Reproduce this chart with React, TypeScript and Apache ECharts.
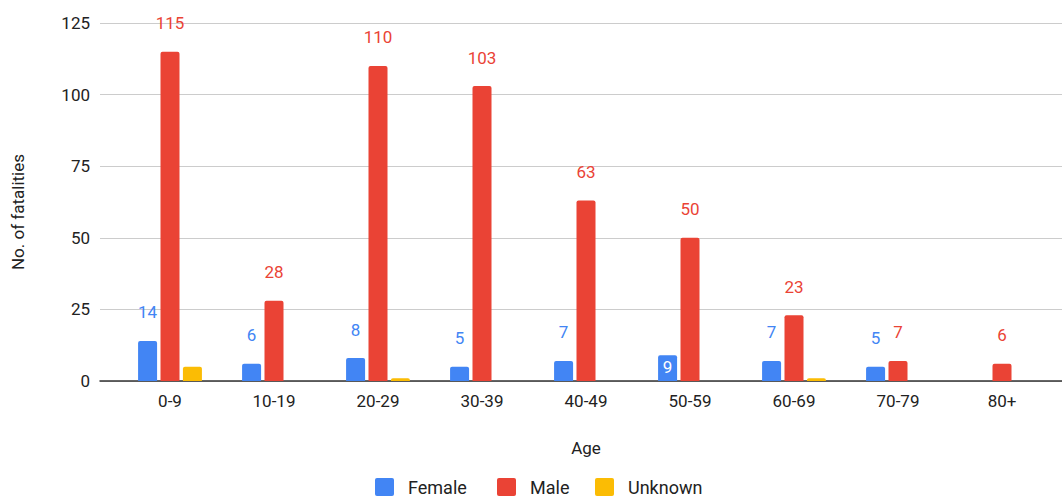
import React, { useEffect, useRef } from "react";
import * as echarts from "echarts";

// Fatalities by age group and sex
const ageGroups = ["0-9", "10-19", "20-29", "30-39", "40-49", "50-59", "60-69", "70-79", "80+"];
const female = [14, 6, 8, 5, 7, 9, 7, 5, null];
const male = [115, 28, 110, 103, 63, 50, 23, 7, 6];
const unknown = [5, null, 1, null, null, null, 1, null, null];
const yTicks = { min: 0, max: 125, interval: 25 };
const seriesNames = ["Female", "Male", "Unknown"];

// Age group whose female value label sits inside its bar
const femaleInsideLabelGroup = "50-59";

const BLUE = "#4285F4";
const RED = "#EA4335";
const YELLOW = "#FBBC04";
const COLORS = [BLUE, RED, YELLOW];
const FONT = "Roboto, Arial, sans-serif";

// Legend swatch and text x positions
const legendSwatchX = [375, 497, 595];
const legendTextX = [408, 530, 628];

export default function App() {
  const ref = useRef<HTMLDivElement>(null);

  useEffect(() => {
    if (!ref.current) return;
    const chart = echarts.init(ref.current, undefined, { renderer: "svg" });

    const plotTop = 23;
    const plotBottom = 117;

    const topLabel = (color: string) => ({
      show: true,
      position: "top" as const,
      distance: 20,
      color,
      fontSize: 17,
      fontFamily: FONT,
    });

    const femaleData = female.map((v, i) =>
      ageGroups[i] === femaleInsideLabelGroup
        ? { value: v, label: { position: "insideTop", distance: 3, color: "#fff" } }
        : v
    );

    const legendGraphics = seriesNames.flatMap((name, i) => [
      {
        type: "rect",
        x: legendSwatchX[i],
        y: 478,
        shape: { width: 19, height: 18, r: 2 },
        style: { fill: COLORS[i] },
      },
      {
        type: "text",
        x: legendTextX[i],
        y: 487,
        style: {
          text: name,
          fontSize: 18,
          fontFamily: FONT,
          fill: "#222",
          align: "left",
          verticalAlign: "middle",
        },
      },
    ]);

    chart.setOption({
      animation: false,
      textStyle: { fontFamily: FONT },
      grid: [
        { left: 118, right: 8, top: plotTop, bottom: plotBottom },
        { left: 100, right: 0, top: plotTop, bottom: plotBottom },
      ],
      xAxis: [
        {
          type: "category",
          gridIndex: 0,
          data: ageGroups,
          axisLine: { show: false },
          axisTick: { show: false },
          axisLabel: { color: "#222", fontSize: 17, margin: 11, fontFamily: FONT },
        },
        {
          type: "value",
          gridIndex: 1,
          min: 0,
          max: 1,
          axisLine: { show: true, onZero: false, lineStyle: { color: "#333", width: 1.5 } },
          axisTick: { show: false },
          axisLabel: { show: false },
          splitLine: { show: false },
        },
      ],
      yAxis: [
        {
          type: "value",
          gridIndex: 0,
          ...yTicks,
          axisLabel: { show: false },
          axisLine: { show: false },
          axisTick: { show: false },
          splitLine: { show: false },
        },
        {
          type: "value",
          gridIndex: 1,
          ...yTicks,
          axisLine: { show: false },
          axisTick: { show: false },
          axisLabel: { color: "#222", fontSize: 17, margin: 10, fontFamily: FONT },
          splitLine: { lineStyle: { color: "#cccccc", width: 1 } },
        },
      ],
      graphic: [
        {
          type: "text",
          x: 18,
          y: 212,
          rotation: Math.PI / 2,
          style: {
            text: "No. of fatalities",
            fontSize: 17,
            fontFamily: FONT,
            fill: "#222",
            align: "center",
            verticalAlign: "middle",
          },
        },
        {
          type: "text",
          x: 586,
          y: 448,
          style: {
            text: "Age",
            fontSize: 17,
            fontFamily: FONT,
            fill: "#222",
            align: "center",
            verticalAlign: "middle",
          },
        },
        ...legendGraphics,
      ],
      series: [
        {
          name: "Female",
          type: "bar",
          xAxisIndex: 0,
          yAxisIndex: 0,
          data: femaleData,
          barWidth: 19,
          barGap: "18%",
          itemStyle: { color: BLUE, borderRadius: [2, 2, 0, 0] },
          label: topLabel(BLUE),
        },
        {
          name: "Male",
          type: "bar",
          xAxisIndex: 0,
          yAxisIndex: 0,
          data: male,
          barWidth: 19,
          barGap: "18%",
          itemStyle: { color: RED, borderRadius: [2, 2, 0, 0] },
          label: topLabel(RED),
        },
        {
          name: "Unknown",
          type: "bar",
          xAxisIndex: 0,
          yAxisIndex: 0,
          data: unknown,
          barWidth: 19,
          barGap: "18%",
          itemStyle: { color: YELLOW, borderRadius: [2, 2, 0, 0] },
        },
      ],
    });

    return () => chart.dispose();
  }, []);

  return (
    <div
      ref={ref}
      style={{ position: "fixed", left: 0, top: 0, width: 1062, height: 498, background: "#fff" }}
    />
  );
}
